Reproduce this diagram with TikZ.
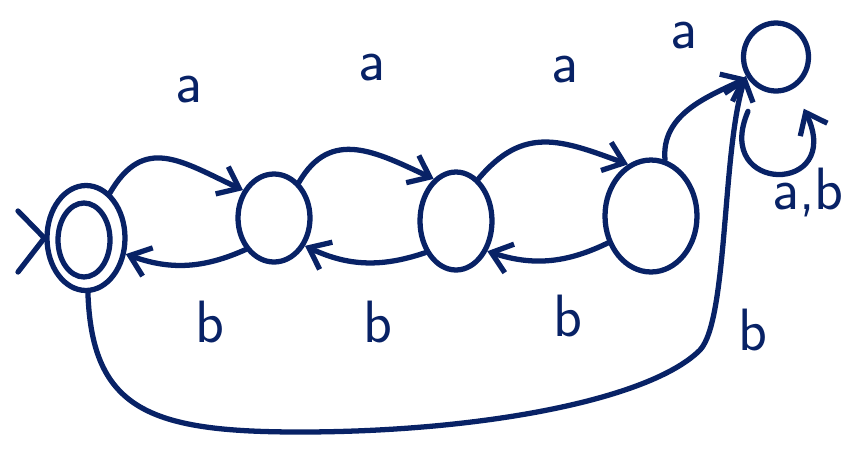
\documentclass[tikz,border=0pt]{standalone}
\usepackage{tikz}
\usetikzlibrary{shapes.geometric,arrows.meta}
\definecolor{ink}{RGB}{8,34,102}

\begin{document}
\begin{tikzpicture}[x=0.02cm, y=-0.02cm, line width=3pt, ink, line cap=round,
    state/.style={draw, ellipse, inner sep=0pt},
    lbl/.style={font=\sffamily\fontsize{34}{36}\selectfont, inner sep=0pt},
    tip/.style={-{Straight Barb[length=0.38cm, width=0.6cm, line width=3pt]}}]
\useasboundingbox (0,0) rectangle (842,454);

%States
\node[state, minimum width=1.56cm, minimum height=2.1cm] (q0) at (86,238) {};
\node[state, minimum width=1.04cm, minimum height=1.48cm] (q0in) at (84,240) {};
\node[state, minimum width=1.44cm, minimum height=1.76cm] (q1) at (274,218) {};
\node[state, minimum width=1.44cm, minimum height=1.96cm] (q2) at (456,221) {};
\node[state, minimum width=1.84cm, minimum height=2.24cm] (q3) at (651,216) {};
\node[state, minimum width=1.3cm, minimum height=1.36cm] (q4) at (776,57) {};

%Start marker
\coordinate (s1) at (18,211);
\coordinate (s2) at (18,272);
\draw (s1) -- (q0.west) -- (s2);

%Forward a
\draw[tip] (q0.62) to[out=60, in=155, looseness=1.3] (q1.138);
\draw[tip] (q1.55) to[out=60, in=155, looseness=1.2] (q2.118);
\draw[tip] (q2.62) to[out=50, in=160, looseness=1.2] (q3.114);
\draw[tip] (q3.76) to[out=95, in=205] (q4.216);

%Back b
\draw[tip] (q1.228) to[bend left=22] (q0.338);
\draw[tip] (q2.226) to[bend left=22] (q1.318);
\draw[tip] (q3.212) to[bend left=22] (q2.316);

%Long b
\draw[tip] (q0.272) .. controls (92,410) and (150,432) .. (300,432)
    .. controls (480,432) and (650,400) .. (700,350)
    .. controls (728,320) and (722,150) .. (q4.212);

%Loop on q4
\draw[tip, shorten <=0.5cm, shorten >=0.45cm] (q4.240) .. controls (712,195) and (845,195) .. (q4.300);

%Labels
\node[lbl] (la01) at (189,90) {a};
\node[lbl] (la12) at (372,68) {a};
\node[lbl] (la23) at (565,70) {a};
\node[lbl] (la34) at (684,36) {a};
\node[lbl] (lb10) at (210,322) {b};
\node[lbl] (lb21) at (378,322) {b};
\node[lbl] (lb32) at (568,316) {b};
\node[lbl] (lb04) at (753,330) {b};
\node[lbl] (lab4) at (808,192) {a,b};
\end{tikzpicture}
\end{document}
